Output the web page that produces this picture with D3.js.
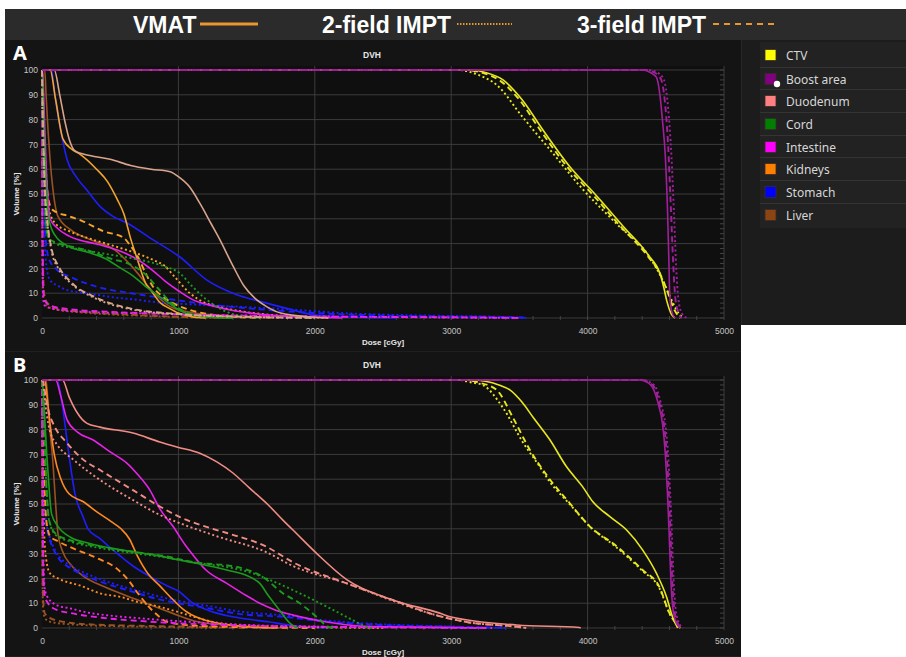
<!DOCTYPE html>
<html>
<head>
<meta charset="utf-8">
<script src="https://cdn.jsdelivr.net/npm/d3@7"></script>
<style>
  html, body { margin: 0; padding: 0; background: #fff; }
  svg { display: block; }
  text { font-family: "Liberation Sans", Arial, sans-serif; }
</style>
</head>
<body>
<div id="container"></div>
<script>
// structures shown in the legend, drawn in every panel
const structures = ['CTV', 'Boost area', 'Duodenum', 'Cord', 'Intestine', 'Kidneys', 'Stomach', 'Liver'];
const plans = ['VMAT', '2-field IMPT', '3-field IMPT'];
const doseTicks = [0, 1000, 2000, 3000, 4000, 5000];
const volumeTicks = [0, 10, 20, 30, 40, 50, 60, 70, 80, 90, 100];

// [dose cGy, volume %] per plan: [VMAT, 2-field, 3-field]
// panel A
const A_CTV = [
    [[0,100],[3150,100],[3250,99],[3380,96],[3520,88],[3670,76],[3870,61],[4070,49],[4260,37],[4450,25],[4530,18],[4560,12],[4580,7],[4610,2],[4640,0]],
    [[0,100],[3050,100],[3200,98],[3333,94],[3524,81],[3722,68],[3963,52],[4212,38],[4454,24.6],[4550,15.3],[4610,8],[4652,3.2],[4700,0]],
    [[0,100],[3100,100],[3220,99],[3350,96],[3500,88],[3650,76],[3850,61],[4050,49],[4240,37],[4440,25],[4530,18],[4590,10],[4630,4],[4680,0]],
];
const A_Boost = [
    [[0,100],[4400,100],[4460,99],[4505,97],[4530,90],[4550,79],[4570,65],[4585,45],[4595,25],[4602,10],[4615,3],[4640,0]],
    [[0,100],[4440,100],[4510,99],[4560,96],[4590,85],[4615,65],[4635,40],[4650,20],[4665,8],[4690,2],[4730,0]],
    [[0,100],[4420,100],[4490,99],[4540,96],[4565,88],[4590,70],[4610,45],[4625,25],[4640,10],[4660,3],[4690,0]],
];
const A_Duodenum = [
    [[0,100],[90,100],[130,90],[165,80],[200,72],[240,67.5],[350,65.5],[500,64],[650,61.5],[800,60],[940,59],[1000,57],[1080,53],[1160,46],[1240,38],[1300,32],[1400,21],[1480,13],[1560,8],[1650,4.5],[1750,2],[1950,0.5],[2100,0]],
    [[0,100],[8,75],[20,52],[40,38],[70,27],[120,20],[212,14],[388,8],[652,3.5],[1000,1.5],[1500,0.4],[2000,0]],
    [[0,100],[8,77],[20,54],[40,39],[70,28],[120,21],[212,14.5],[388,8.5],[652,3.8],[1000,1.6],[1500,0.5],[2000,0]],
];
const A_Cord = [
    [[0,100],[5,95],[15,75],[30,55],[44,42],[70,36],[100,33],[190,29],[337,26.5],[462,24],[580,20],[667,17],[776,12],[864,8.5],[945,5.5],[1011,3],[1100,1.2],[1250,0.3],[1400,0]],
    [[0,100],[5,78],[15,52],[30,37],[50,32],[100,30],[250,28],[450,26],[667,24],[886,21],[1011,18],[1106,12.5],[1209,7.3],[1326,3.2],[1420,1.2],[1500,0.4],[1600,0]],
    [[0,100],[5,80],[15,55],[30,38],[50,32],[100,30.5],[200,29],[350,27],[500,24],[650,21.5],[750,18],[850,12],[950,6],[1050,2.5],[1200,0.5],[1400,0]],
];
const A_Intestine = [
    [[0,100],[5,100],[15,85],[30,62],[44,48],[59,40],[117,36],[200,33],[425,29.5],[571,27],[703,23.5],[815,19],[900,15],[1000,11],[1120,7],[1209,5.5],[1400,3],[1670,1.2],[2000,0.3],[2200,0]],
    [[0,100],[3,30],[8,8],[20,5],[100,3.5],[300,2.5],[800,1.8],[1500,1],[2500,0.4],[3500,0]],
    [[0,100],[3,40],[8,12],[20,7],[60,5],[212,3.5],[500,2.5],[1000,1.5],[2000,0.6],[3000,0.3],[3500,0]],
];
const A_Kidneys = [
    [[0,100],[60,100],[100,88],[155,72],[220,68],[280,66],[400,60],[480,55],[550,48],[600,42],[650,32],[700,23.5],[760,14],[800,11],[870,6],[930,4],[1000,2],[1100,0.5],[1200,0]],
    [[0,100],[10,78],[30,55],[50,44],[100,38],[200,35],[350,32],[500,29.5],[623,27.4],[815,23.4],[900,21],[974,16.5],[1084,10],[1200,6],[1304,4.4],[1548,2],[1800,0.8],[2100,0]],
    [[0,100],[10,80],[30,58],[50,47],[80,43.5],[200,41],[300,39],[450,35],[595,32.5],[650,29],[700,25],[760,18],[815,12.5],[900,8],[960,6],[1100,3],[1300,1],[1600,0]],
];
const A_Stomach = [
    [[0,100],[70,100],[90,92],[110,84],[150,72],[183,64],[250,57],[330,51.5],[425,45],[520,41],[622,38.3],[815,31.5],[1011,24.6],[1209,15.3],[1400,10],[1648,6],[1840,3.2],[2000,1.2],[2300,0.3],[2600,0]],
    [[0,100],[10,55],[20,30],[35,20],[59,15.3],[117,13],[200,11],[337,10],[500,8.5],[703,7.3],[815,6.5],[1100,5.5],[1500,4.4],[1800,3.5],[2200,2],[2800,1],[3400,0.4],[3550,0]],
    [[0,100],[10,60],[20,38],[35,28],[50,24],[100,20],[212,16.5],[410,12.5],[652,10],[815,8.6],[1011,7],[1300,5],[1600,3.5],[2000,2],[2500,1],[3000,0.6],[3500,0.3],[3550,0]],
];
const A_Liver = [
    [[0,100],[20,100],[30,90],[45,75],[59,64],[80,52],[117,41],[212,35.5],[359,31.5],[535,27.4],[681,19.4],[800,11.3],[945,4.4],[1120,2],[1300,1],[1500,0.3],[1700,0]],
    [[0,100],[4,25],[12,8],[30,5],[100,3.5],[300,2.2],[600,1.2],[1000,0.4],[1400,0]],
    [[0,100],[5,30],[15,10],[40,6],[100,4],[300,2.5],[600,1.5],[1000,0.5],[1400,0]],
];

// panel B
const B_CTV = [
    [[0,100],[3150,100],[3250,99.5],[3350,98],[3430,96],[3520,91],[3600,85],[3722,76],[3846,65],[3963,57],[4037,51],[4161,45],[4286,39.5],[4403,31.5],[4505,22],[4579,12.5],[4623,4.4],[4660,0]],
    [[0,100],[3050,100],[3150,99],[3231,98],[3377,89],[3524,75],[3650,65],[3722,59],[3868,50],[4015,41],[4212,32.5],[4403,23],[4527,16],[4600,6],[4680,0]],
    [[0,100],[3100,100],[3200,99],[3333,96],[3451,85],[3575,72],[3722,60],[3868,50.4],[4015,41],[4212,33],[4403,23.4],[4527,16.5],[4600,6],[4680,0]],
];
const B_Boost = [
    [[0,100],[4380,100],[4440,99],[4476,97],[4520,90],[4550,82],[4570,70],[4585,55],[4598,38],[4610,20],[4625,8],[4650,2],[4680,0]],
    [[0,100],[4400,100],[4460,99],[4500,97],[4540,90],[4570,82],[4590,70],[4605,55],[4618,38],[4630,20],[4645,8],[4670,2],[4700,0]],
    [[0,100],[4390,100],[4450,99],[4490,97],[4530,90],[4560,82],[4580,70],[4595,55],[4608,38],[4620,20],[4635,8],[4660,2],[4690,0]],
];
const B_Duodenum = [
    [[0,100],[150,100],[200,93],[256,87],[330,82.5],[425,81],[667,78.6],[864,75],[989,73],[1157,70.5],[1282,67],[1400,62.5],[1520,56.5],[1670,49],[1766,43.5],[1840,39.5],[2015,30],[2234,19.5],[2571,11.3],[2916,6],[3000,4.4],[3480,1.2],[3940,0.2],[3950,0]],
    [[0,100],[10,98],[30,88],[60,79],[110,74],[227,68],[425,59.7],[667,51.6],[864,45.6],[1000,42.5],[1282,37],[1648,30.5],[1840,25],[2234,18],[2571,11],[2900,5],[3113,2.4],[3480,0.5],[3550,0]],
    [[0,100],[10,99],[30,92],[50,87],[81,82.5],[183,74.6],[300,68],[425,63.7],[667,55.6],[864,49],[1000,45],[1282,39.5],[1355,38.3],[1648,32.7],[1840,26.5],[2234,18],[2571,11.3],[2900,5],[3113,2.4],[3480,0.5],[3550,0]],
];
const B_Cord = [
    [[0,100],[10,95],[20,85],[35,70],[50,58],[70,46],[117,41],[212,36.5],[337,34.3],[579,31.5],[828,29.4],[1000,27.5],[1143,26],[1355,23.4],[1524,20.6],[1597,18],[1660,13],[1722,8.6],[1817,2],[1870,0]],
    [[0,100],[10,90],[20,74],[35,54],[50,44],[100,37.5],[200,35],[400,32.5],[700,30],[900,28.5],[1106,26.5],[1355,24.6],[1550,22],[1670,19.4],[1890,14],[2088,8.6],[2278,3.2],[2381,0.4],[2420,0]],
    [[0,100],[10,90],[20,75],[35,55],[50,44],[100,38],[200,35.5],[400,33],[700,30.5],[900,29],[1106,26.6],[1429,24.6],[1619,20.6],[1766,14],[1890,10],[2015,4.4],[2100,0.4],[2150,0]],
];
const B_Intestine = [
    [[0,100],[100,100],[140,93],[183,84],[260,79],[375,75.8],[500,71],[622,66.5],[700,62],[791,55.6],[864,48],[960,41],[1050,33.5],[1106,29.5],[1200,23.5],[1355,18],[1500,13],[1597,10],[1700,7.5],[1840,5.2],[2088,2.4],[2330,0.8],[2800,0.3],[3230,0]],
    [[0,100],[5,60],[10,30],[20,16],[40,12.5],[117,9],[200,8],[337,6.2],[500,5],[703,4],[1070,2.5],[1500,1.2],[2000,0.6],[2800,0.2],[3200,0]],
    [[0,100],[5,50],[10,22],[20,13],[44,10],[100,7.5],[212,6],[462,4],[776,2.6],[1157,1.5],[1600,0.8],[2200,0.4],[3000,0.1],[3300,0]],
];
const B_Kidneys = [
    [[0,100],[20,100],[40,92],[60,82],[90,70],[139,60],[200,54],[300,51],[410,46.5],[505,43],[579,40],[640,36],[700,29],[776,22],[864,17],[950,12],[1048,7],[1150,4],[1282,2],[1524,0.4],[1700,0]],
    [[0,100],[5,70],[15,40],[30,28],[59,22],[117,20],[286,17],[425,14],[579,12.5],[700,10.5],[828,9],[996,6.5],[1120,4.4],[1300,2],[1600,0.8],[2000,0.3],[2500,0]],
    [[0,100],[8,80],[20,55],[35,42],[60,37],[117,35],[212,32.5],[410,28],[535,24.5],[630,19.5],[703,14],[776,9],[850,5],[916,2.5],[1100,1],[1500,0.3],[2000,0]],
];
const B_Stomach = [
    [[0,100],[110,100],[154,88],[183,76],[210,65],[242,54],[300,45],[337,40],[425,36],[530,31],[667,25],[800,20.5],[916,17],[996,15],[1106,10],[1250,6.5],[1400,4.5],[1670,2.4],[1840,1],[2000,0.3],[2100,0]],
    [[0,100],[5,72],[15,52],[30,43],[50,38],[100,31],[212,25],[300,22.5],[462,19],[703,15],[996,11],[1157,9.5],[1472,6.5],[1795,5],[2000,3.5],[2500,1.5],[3000,0.6],[3400,0]],
    [[0,100],[5,70],[15,50],[30,42],[50,37],[100,30],[212,24],[300,21.5],[462,18],[550,16.5],[703,14],[791,12.5],[996,10],[1157,8.5],[1472,5.5],[1795,4.4],[2000,3],[2500,1.2],[3000,0.5],[3400,0]],
];
const B_Liver = [
    [[0,100],[30,100],[50,85],[81,66],[100,50],[117,38],[150,31],[212,25.5],[300,21],[462,16.5],[703,11.3],[945,6.2],[1143,2.5],[1400,1],[1600,0.3],[1800,0]],
    [[0,100],[3,25],[8,8],[20,4],[60,2.5],[200,1.5],[500,0.8],[1000,0.3],[1300,0]],
    [[0,100],[3,30],[8,12],[20,6],[60,4],[117,3],[337,1.5],[800,0.8],[1200,0.4],[1500,0]],
];

const panelA = [A_CTV, A_Boost, A_Duodenum, A_Cord, A_Intestine, A_Kidneys, A_Stomach, A_Liver];
const panelB = [B_CTV, B_Boost, B_Duodenum, B_Cord, B_Intestine, B_Kidneys, B_Stomach, B_Liver];

// colours
const legendColors = ['#ffff00', '#800080', '#ff8080', '#008000', '#ff00ff', '#ff8000', '#0000ff', '#8b4513'];
const lineColorsA = ['#e8e820', '#a0209c', '#d8a48c', '#1c9a1c', '#e822e8', '#f4a52a', '#1e1eff', '#9a5222'];
const lineColorsB = ['#e8e820', '#a0209c', '#f08c84', '#1c9a1c', '#e822e8', '#ff8a22', '#1e1eff', '#9a5222'];
const planDash = ['none', '2,2.6', '6,4'];

const W = 906, H = 657;
const svg = d3.select('#container').append('svg')
    .attr('width', W)
    .attr('height', H);

svg.append('rect').attr('width', W).attr('height', H).attr('fill', '#ffffff');

// top plan legend
const topBar = svg.append('g');
topBar.append('rect').attr('x', 5).attr('y', 9).attr('width', 901).attr('height', 31).attr('fill', '#2b2b2b');
const topItems = [
    {label: plans[0], tx: 133, x1: 200, x2: 258},
    {label: plans[1], tx: 322, x1: 457, x2: 512},
    {label: plans[2], tx: 577, x1: 713, x2: 775},
];
topItems.forEach((t, i) => {
    topBar.append('text')
        .attr('x', t.tx).attr('y', 33)
        .attr('fill', '#ffffff')
        .attr('font-size', 23)
        .attr('font-weight', 'bold')
        .style('font-family', '"Liberation Sans Narrow", "Liberation Sans", Arial, sans-serif')
        .text(t.label);
    topBar.append('line')
        .attr('x1', t.x1).attr('x2', t.x2).attr('y1', 24).attr('y2', 24)
        .attr('stroke', '#e8962e')
        .attr('stroke-width', i === 0 ? 3 : 2)
        .attr('stroke-dasharray', i === 0 ? null : (i === 1 ? '1.5,1.5' : '6,5'));
});

// right legend
const leg = svg.append('g');
leg.append('rect').attr('x', 740).attr('y', 40).attr('width', 166).attr('height', 285).attr('fill', '#1c1c1c');
leg.append('line').attr('x1', 741).attr('x2', 741).attr('y1', 40).attr('y2', 325).attr('stroke', '#333');
leg.append('rect').attr('x', 760).attr('y', 42).attr('width', 146).attr('height', 186).attr('fill', '#222222');
const rowY = [55, 79, 101, 124, 147, 169, 192, 215];
structures.forEach((s, i) => {
    if (i > 0) {
        leg.append('line')
            .attr('x1', 760).attr('x2', 906)
            .attr('y1', rowY[i] - 11.5).attr('y2', rowY[i] - 11.5)
            .attr('stroke', '#343434');
    }
    leg.append('rect')
        .attr('x', 765).attr('y', rowY[i] - 5.5)
        .attr('width', 11).attr('height', 11)
        .attr('fill', legendColors[i])
        .attr('stroke', '#3a2a2a').attr('stroke-width', 0.8);
    leg.append('text')
        .attr('x', 786).attr('y', rowY[i] + 4.5)
        .attr('fill', '#d6d6d6')
        .attr('font-size', 12)
        .style('font-family', '"Noto Sans", "Open Sans", sans-serif')
        .text(s);
});
leg.append('circle').attr('cx', 777).attr('cy', 84).attr('r', 3.2).attr('fill', '#ffffff');

// DVH panel
function drawPanel(letter, y0, y1, plotTop, zeroY, data, colors) {
    const g = svg.append('g');
    g.append('rect').attr('x', 5).attr('y', y0).attr('width', 736).attr('height', y1 - y0).attr('fill', '#141414');
    g.append('line').attr('x1', 5).attr('x2', 741).attr('y1', y1).attr('y2', y1).attr('stroke', '#2a2a2a');

    const x = d3.scaleLinear().domain([0, 5000]).range([42, 724]);
    const y = d3.scaleLinear().domain([0, 100]).range([zeroY, plotTop]);

    g.append('rect')
        .attr('x', 42).attr('y', plotTop - 4)
        .attr('width', 682).attr('height', zeroY - plotTop + 6)
        .attr('fill', '#0f0f0f');

    // grid
    g.append('g')
        .selectAll('line.h')
        .data(volumeTicks)
        .enter()
        .append('line')
        .attr('x1', 42).attr('x2', 724)
        .attr('y1', d => y(d)).attr('y2', d => y(d))
        .attr('stroke', '#3c3c3c').attr('stroke-width', 1);
    g.append('g')
        .selectAll('line.v')
        .data(doseTicks.slice(1))
        .enter()
        .append('line')
        .attr('x1', d => x(d)).attr('x2', d => x(d))
        .attr('y1', plotTop - 4).attr('y2', zeroY + 2)
        .attr('stroke', '#3c3c3c').attr('stroke-width', 1);

    // minor ticks
    g.append('g')
        .selectAll('line')
        .data(d3.range(200, 5000, 200))
        .enter()
        .append('line')
        .attr('x1', d => x(d)).attr('x2', d => x(d))
        .attr('y1', zeroY - 2).attr('y2', zeroY + 2)
        .attr('stroke', '#444');
    g.append('g')
        .selectAll('line')
        .data(d3.range(0, 101, 2))
        .enter()
        .append('line')
        .attr('x1', 720).attr('x2', 724)
        .attr('y1', d => y(d)).attr('y2', d => y(d))
        .attr('stroke', '#444');

    // axes
    const xAxis = g.append('g')
        .attr('transform', `translate(0,${zeroY + 4})`)
        .call(d3.axisBottom(x).tickValues(doseTicks).tickFormat(d3.format('d')).tickSize(0).tickPadding(6));
    const yAxis = g.append('g')
        .attr('transform', 'translate(38,0)')
        .call(d3.axisLeft(y).tickValues(volumeTicks).tickFormat(d3.format('d')).tickSize(0).tickPadding(0));
    [xAxis, yAxis].forEach(a => {
        a.select('.domain').remove();
        a.selectAll('text')
            .attr('fill', '#c4c4c4')
            .attr('font-size', 8.5)
            .style('font-family', '"Liberation Sans", Arial, sans-serif');
    });

    g.append('text')
        .attr('x', 372).attr('y', plotTop - 12)
        .attr('text-anchor', 'middle')
        .attr('fill', '#e6e6e6')
        .attr('font-size', 8.5)
        .attr('font-weight', 'bold')
        .text('DVH');
    g.append('text')
        .attr('x', 383).attr('y', zeroY + 27)
        .attr('text-anchor', 'middle')
        .attr('fill', '#e6e6e6')
        .attr('font-size', 8)
        .attr('font-weight', 'bold')
        .text('Dose [cGy]');
    g.append('text')
        .attr('transform', `translate(19,${(zeroY + plotTop) / 2}) rotate(-90)`)
        .attr('text-anchor', 'middle')
        .attr('fill', '#e6e6e6')
        .attr('font-size', 8)
        .attr('font-weight', 'bold')
        .text('Volume [%]');
    g.append('text')
        .attr('x', 13).attr('y', y0 + 20)
        .attr('fill', '#ffffff')
        .attr('font-size', 20)
        .attr('font-weight', 'bold')
        .style('font-family', '"Noto Sans", "Liberation Sans", sans-serif')
        .text(letter);

    const line = d3.line()
        .x(d => x(d[0]))
        .y(d => y(d[1]))
        .curve(d3.curveMonotoneX);

    // organs first, then targets on top
    const order = [7, 6, 5, 4, 3, 2, 0, 1];
    const curves = g.append('g');
    order.forEach(si => {
        [1, 2, 0].forEach(pi => {
            curves.append('path')
                .datum(data[si][pi])
                .attr('d', line)
                .attr('fill', 'none')
                .attr('stroke', colors[si])
                .attr('stroke-width', pi === 0 ? 1.6 : 1.9)
                .attr('stroke-dasharray', planDash[pi] === 'none' ? null : planDash[pi]);
        });
    });
}

drawPanel('A', 40, 352, 70, 318, panelA, lineColorsA);
drawPanel('B', 352, 657, 380, 628, panelB, lineColorsB);

// white area below the legend
svg.append('rect').attr('x', 741).attr('y', 325).attr('width', 165).attr('height', 332).attr('fill', '#ffffff');
</script>
</body>
</html>
